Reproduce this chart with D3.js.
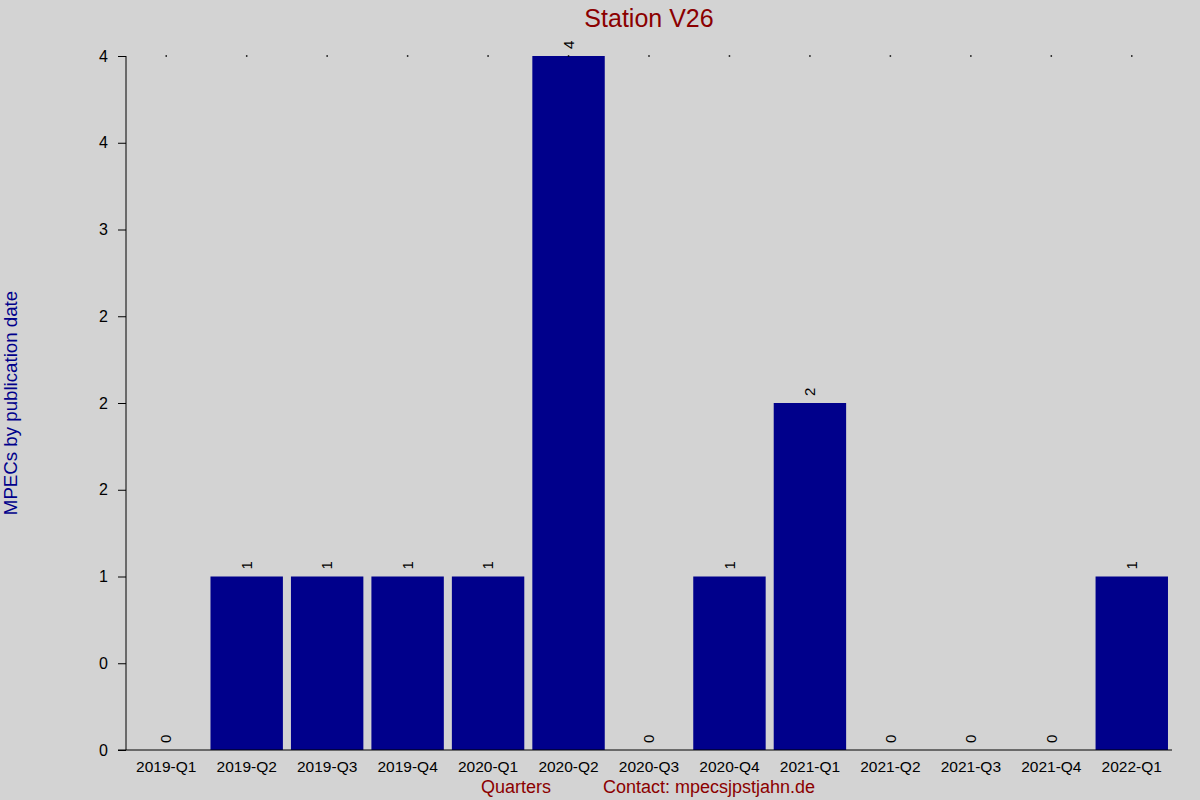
<!DOCTYPE html>
<html>
<head>
<meta charset="utf-8">
<script src="https://cdn.jsdelivr.net/npm/d3@7"></script>
<style>
  body { margin: 0; background: #d3d3d3; }
  svg { display: block; font-family: "Liberation Sans", Arial, sans-serif; }
</style>
</head>
<body>
<div id="chart"></div>
<script>
var quarters = ["2019-Q1", "2019-Q2", "2019-Q3", "2019-Q4", "2020-Q1", "2020-Q2", "2020-Q3",
  "2020-Q4", "2021-Q1", "2021-Q2", "2021-Q3", "2021-Q4", "2022-Q1"];
var mpecs = [0, 1, 1, 1, 1, 4, 0, 1, 2, 0, 0, 0, 1];
var yTicks = [0, 0.5, 1, 1.5, 2, 2.5, 3, 3.5, 4];
var yTickLabels = ["0", "0", "1", "2", "2", "2", "3", "4", "4"];

var svgWidth = 1200;
var svgHeight = 800;
var margin = { top: 56, right: 28, bottom: 50, left: 126 };
var width = svgWidth - margin.left - margin.right;
var height = svgHeight - margin.top - margin.bottom;

var svg = d3.select("#chart")
  .append("svg")
  .attr("width", svgWidth)
  .attr("height", svgHeight);

svg.append("rect")
  .attr("width", svgWidth)
  .attr("height", svgHeight)
  .attr("fill", "#d3d3d3");

var chartGroup = svg.append("g")
  .attr("transform", `translate(${margin.left}, ${margin.top})`);

var x = d3.scaleBand()
  .domain(quarters)
  .range([0, width])
  .paddingInner(0.1)
  .paddingOuter(0.05);

var y = d3.scaleLinear()
  .domain([0, 4])
  .range([height, 0]);

// bars
chartGroup.selectAll(".bar")
  .data(mpecs)
  .enter().append("rect")
  .attr("class", "bar")
  .attr("x", (d, i) => x(quarters[i]))
  .attr("y", d => y(d))
  .attr("width", x.bandwidth())
  .attr("height", d => height - y(d))
  .attr("fill", "#00008b");

// small dots along the top
chartGroup.selectAll(".dot")
  .data(quarters)
  .enter().append("rect")
  .attr("class", "dot")
  .attr("x", d => x(d) + x.bandwidth() / 2 - 0.75)
  .attr("y", y(4) - 0.75)
  .attr("width", 1.5)
  .attr("height", 1.5)
  .attr("fill", "black");

// value labels, rotated
chartGroup.selectAll(".val")
  .data(mpecs)
  .enter().append("text")
  .attr("class", "val")
  .attr("transform", (d, i) => `translate(${x(quarters[i]) + x.bandwidth() / 2}, ${y(d) - 7})rotate(-90)`)
  .attr("dy", "0.35em")
  .attr("text-anchor", "start")
  .attr("font-size", "15px")
  .attr("fill", "black")
  .text(d => d);

// y axis
var leftAxis = d3.axisLeft(y)
  .tickValues(yTicks)
  .tickFormat((d, i) => yTickLabels[i])
  .tickSize(8)
  .tickPadding(10);

var yAxisG = chartGroup.append("g").call(leftAxis);
yAxisG.select(".domain").attr("d", `M0,0V${height}`).attr("stroke", "black");
yAxisG.selectAll("text").attr("font-size", "16px").attr("font-family", "Liberation Sans, Arial, sans-serif").attr("fill", "black");

// x axis
var bottomAxis = d3.axisBottom(x).tickSize(0).tickPadding(11);
var xAxisG = chartGroup.append("g")
  .attr("transform", `translate(0, ${height})`)
  .call(bottomAxis);
xAxisG.select(".domain").attr("d", `M-8,0H${width}`).attr("stroke", "black");
xAxisG.selectAll("text").attr("font-size", "15.5px").attr("font-family", "Liberation Sans, Arial, sans-serif").attr("fill", "black");

// title
svg.append("text")
  .attr("x", margin.left + width / 2)
  .attr("y", 27)
  .attr("text-anchor", "middle")
  .attr("font-size", "25px")
  .attr("fill", "#8b0000")
  .text("Station V26");

// y label
svg.append("text")
  .attr("transform", `translate(17, ${margin.top + height / 2})rotate(-90)`)
  .attr("text-anchor", "middle")
  .attr("font-size", "18.7px")
  .attr("fill", "#00008b")
  .text("MPECs by publication date");

// x label and contact
svg.append("text")
  .attr("x", 481)
  .attr("y", 793)
  .attr("font-size", "18px")
  .attr("fill", "#8b0000")
  .text("Quarters");

svg.append("text")
  .attr("x", 603)
  .attr("y", 793)
  .attr("font-size", "18px")
  .attr("fill", "#8b0000")
  .text("Contact: mpecsjpstjahn.de");
</script>
</body>
</html>
